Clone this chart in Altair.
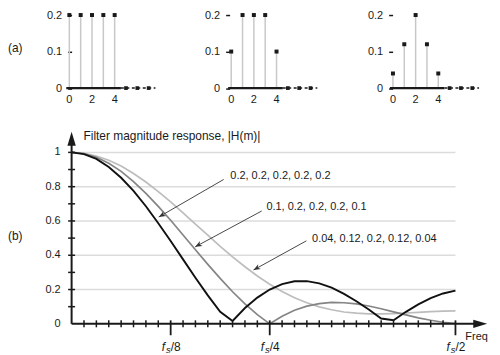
import altair as alt
import pandas as pd

FONT = "Liberation Sans"
INK = "#1a1a1a"

# ---------------- data: impulse responses (panel a) ----------------
tap_index = [0, 1, 2, 3, 4]
taps_rect = [0.2, 0.2, 0.2, 0.2, 0.2]
taps_mid = [0.1, 0.2, 0.2, 0.2, 0.1]
taps_taper = [0.04, 0.12, 0.2, 0.12, 0.04]
tail_index = [5, 6, 7]
tail_values = [0, 0, 0]
tap_x_labels = [0, 2, 4]
tap_y_ticks = [0, 0.1, 0.2]

# ---------------- data: magnitude responses (panel b) ----------------
freq_bin = list(range(32))
mag_rect = [1.000, 0.990, 0.962, 0.915, 0.852, 0.775, 0.686, 0.587, 0.483, 0.376,
            0.269, 0.166, 0.070, 0.017, 0.092, 0.153, 0.200, 0.232, 0.248, 0.249,
            0.236, 0.211, 0.175, 0.132, 0.083, 0.031, 0.021, 0.070, 0.113, 0.150,
            0.177, 0.194]
mag_mid = [1.000, 0.993, 0.971, 0.936, 0.889, 0.830, 0.761, 0.685, 0.604, 0.518,
           0.432, 0.347, 0.265, 0.187, 0.117, 0.054, 0.000, 0.044, 0.079, 0.103,
           0.118, 0.125, 0.123, 0.116, 0.104, 0.088, 0.070, 0.052, 0.035, 0.021,
           0.009, 0.002]
mag_taper = [1.000, 0.995, 0.979, 0.954, 0.920, 0.877, 0.827, 0.771, 0.711, 0.647,
             0.582, 0.517, 0.452, 0.391, 0.333, 0.279, 0.231, 0.189, 0.152, 0.123,
             0.099, 0.082, 0.069, 0.062, 0.058, 0.058, 0.060, 0.063, 0.067, 0.071,
             0.074, 0.076]

grid_levels = [0.2, 0.4, 0.6, 0.8, 1.0]
y_label_values = [0, 0.2, 0.4, 0.6, 0.8, 1.0]
y_label_text = ["0", "0.2", "0.4", "0.6", "0.8", "1"]
y_tick_values = [0.1, 0.2, 0.3, 0.4, 0.5, 0.6, 0.7, 0.8, 0.9, 1.0]
x_major_bins = [8, 16, 31]
x_major_den = ["/8", "/4", "/2"]
x_minor_bins = [b for b in range(1, 32) if b not in x_major_bins]

legend_text = ["0.2, 0.2, 0.2, 0.2, 0.2", "0.1, 0.2, 0.2, 0.2, 0.1",
               "0.04, 0.12, 0.2, 0.12, 0.04"]
legend_x = [12.82, 15.73, 19.42]
legend_y = [0.861, 0.683, 0.497]
arrow_x1 = [12.28, 15.35, 18.96]
arrow_y1 = [0.842, 0.658, 0.484]
arrow_x2 = [7.04, 9.98, 14.69]
arrow_y2 = [0.623, 0.449, 0.314]
arrow_angle = [150, 152, 151]

# ---------------- panel (a) ----------------
PX_PER_TAP = 11.4
TOP_H = 73.5


def tap_panel(taps, x_start, width, tag=None):
    xs = alt.Scale(domain=[x_start, x_start + width / PX_PER_TAP], nice=False, zero=False)
    ys = alt.Scale(domain=[0, 0.2], nice=False, zero=False)
    yaxis = alt.Axis(values=tap_y_ticks, format="~g", domain=False, grid=False, tickSize=4,
                     tickWidth=1.5, tickColor=INK, labelFont=FONT, labelFontSize=11,
                     labelColor=INK, labelPadding=6, title=None)

    def X(f):
        return alt.X(f, type="quantitative", scale=xs, axis=None)

    def Y(f):
        return alt.Y(f, type="quantitative", scale=ys, axis=yaxis)

    df = pd.DataFrame({"n": tap_index, "v": taps, "z": [0] * len(taps)})
    stems = alt.Chart(df).mark_rule(color="#c8c8c8", strokeWidth=1.5).encode(
        x=X("n"), y=Y("v"), y2="z")
    heads = alt.Chart(df).mark_square(size=16, color=INK, opacity=1).encode(
        x=X("n"), y=Y("v"))
    base = alt.Chart(pd.DataFrame({"a": [-0.27], "b": [4.55], "y": [0]})).mark_rule(
        color=INK, strokeWidth=2.2).encode(x=X("a"), x2="b", y=Y("y"))
    tail_line = alt.Chart(pd.DataFrame({"a": [4.55], "b": [7.6], "y": [0]})).mark_rule(
        color=INK, strokeWidth=1.5, strokeDash=[3, 2.5]).encode(x=X("a"), x2="b", y=Y("y"))
    tail = alt.Chart(pd.DataFrame({"n": tail_index, "v": tail_values})).mark_square(
        size=14, color=INK, opacity=1).encode(x=X("n"), y=Y("v"))
    lab_df = pd.DataFrame({"n": tap_x_labels, "y": [0] * len(tap_x_labels),
                           "t": [str(v) for v in tap_x_labels]})
    labels = alt.Chart(lab_df).mark_text(font=FONT, fontSize=11, color=INK, dy=12,
                                         baseline="middle").encode(
        x=X("n"), y=Y("y"), text="t:N")
    layers = [stems, base, tail_line, tail, heads, labels]
    if tag:
        layers.append(alt.Chart(pd.DataFrame({"y": [0.11], "t": [tag]})).mark_text(
            font=FONT, fontSize=12, color=INK, align="left", baseline="middle").encode(
            x=alt.value(-64), y=Y("y"), text="t:N"))
    return alt.layer(*layers).properties(width=width, height=TOP_H)


p1 = tap_panel(taps_rect, 0.2, 98.7, "(a)")
p2 = tap_panel(taps_mid, -0.14, 103.3)
p3 = tap_panel(taps_taper, -0.03, 100)

# ---------------- panel (b) ----------------
BW, BH = 418, 193.2
xb = alt.Scale(domain=[0, 33.55], nice=False, zero=False)
yb = alt.Scale(domain=[0, 1.12], nice=False, zero=False)


def BX(f):
    return alt.X(f, type="quantitative", scale=xb, axis=None)


def BY(f):
    return alt.Y(f, type="quantitative", scale=yb, axis=None)


grid = alt.Chart(pd.DataFrame({"g": grid_levels, "a": 0, "b": 31})).mark_rule(
    color="#dcdcdc", strokeWidth=1.5).encode(x=BX("a"), x2="b", y=BY("g"))


def curve(vals, color, width):
    return alt.Chart(pd.DataFrame({"m": freq_bin, "h": vals})).mark_line(
        color=color, strokeWidth=width).encode(x=BX("m"), y=BY("h"))


c_taper = curve(mag_taper, "#bdbdbd", 1.7)
c_mid = curve(mag_mid, "#858585", 1.7)
c_rect = curve(mag_rect, "#111111", 1.9)

x_axis_line = alt.Chart(pd.DataFrame({"a": [0], "b": [33.0], "y": [0]})).mark_rule(
    color=INK, strokeWidth=2).encode(x=BX("a"), x2="b", y=BY("y"))
y_axis_line = alt.Chart(pd.DataFrame({"x": [0], "a": [0], "b": [1.08]})).mark_rule(
    color=INK, strokeWidth=2).encode(x=BX("x"), y=BY("a"), y2="b")
axis_heads = alt.Chart(pd.DataFrame({"x": [33.0, 0], "y": [0, 1.08], "a": [0, 270]})).mark_point(
    shape="M1,0L-1,-0.6L-1,0.6Z", filled=True, size=196, color=INK, opacity=1).encode(
    x=BX("x"), y=BY("y"), angle=alt.Angle("a:Q", scale=None))

y_ticks = alt.Chart(pd.DataFrame({"x": 0, "y": y_tick_values})).mark_tick(
    orient="horizontal", size=7, thickness=1.5, color=INK, opacity=1).encode(
    x=BX("x"), y=BY("y"))
x_ticks = alt.Chart(pd.DataFrame({"x": x_minor_bins, "y": 0})).mark_tick(
    orient="vertical", size=7, thickness=1.5, color=INK, opacity=1).encode(
    x=BX("x"), y=BY("y"))
x_major = alt.Chart(pd.DataFrame({"x": x_major_bins, "y": 0})).mark_tick(
    orient="vertical", size=15, thickness=1.8, color=INK, opacity=1, yOffset=4).encode(
    x=BX("x"), y=BY("y"))

y_labels = alt.Chart(pd.DataFrame({"x": 0, "y": y_label_values, "t": y_label_text})).mark_text(
    font=FONT, fontSize=11, color=INK, align="right", baseline="middle", dx=-11).encode(
    x=BX("x"), y=BY("y"), text="t:N")

maj_df = pd.DataFrame({"x": x_major_bins, "y": 0, "f": "f", "s": "s", "d": x_major_den})
lab_f = alt.Chart(maj_df).mark_text(font=FONT, fontSize=12, fontStyle="italic", color=INK,
                                    align="left", baseline="middle", dx=-9, dy=23).encode(
    x=BX("x"), y=BY("y"), text="f:N")
lab_s = alt.Chart(maj_df).mark_text(font=FONT, fontSize=9.5, fontStyle="italic", color=INK,
                                    align="left", baseline="middle", dx=-4.8, dy=26).encode(
    x=BX("x"), y=BY("y"), text="s:N")
lab_d = alt.Chart(maj_df).mark_text(font=FONT, fontSize=12, color=INK,
                                    align="left", baseline="middle", dx=0, dy=23).encode(
    x=BX("x"), y=BY("y"), text="d:N")

arrows_df = pd.DataFrame({"x1": arrow_x1, "y1": arrow_y1, "x2": arrow_x2, "y2": arrow_y2,
                          "a": arrow_angle})
arrow_lines = alt.Chart(arrows_df).mark_rule(color="#333333", strokeWidth=0.9).encode(
    x=BX("x1"), y=BY("y1"), x2="x2", y2="y2")
arrow_heads = alt.Chart(arrows_df).mark_point(
    shape="M0,0L-2,-0.8L-1.4,0L-2,0.8Z", filled=True, size=49, color="#333333",
    opacity=1).encode(x=BX("x2"), y=BY("y2"), angle=alt.Angle("a:Q", scale=None))

legend = alt.Chart(pd.DataFrame({"x": legend_x, "y": legend_y, "t": legend_text})).mark_text(
    font=FONT, fontSize=11, color=INK, align="left", baseline="middle").encode(
    x=BX("x"), y=BY("y"), text="t:N")

title = alt.Chart(pd.DataFrame({"x": [0.96], "y": [1.096],
                                "t": ["Filter magnitude response, |H(m)|"]})).mark_text(
    font=FONT, fontSize=12, color=INK, align="left", baseline="middle").encode(
    x=BX("x"), y=BY("y"), text="t:N")
freq = alt.Chart(pd.DataFrame({"x": [31.8], "y": [-0.075], "t": ["Freq"]})).mark_text(
    font=FONT, fontSize=11, color=INK, align="left", baseline="middle").encode(
    x=BX("x"), y=BY("y"), text="t:N")
tag_b = alt.Chart(pd.DataFrame({"y": [0.513], "t": ["(b)"]})).mark_text(
    font=FONT, fontSize=12, color=INK, align="left", baseline="middle").encode(
    x=alt.value(-64), y=BY("y"), text="t:N")

bottom = alt.layer(grid, c_taper, c_mid, c_rect, x_axis_line, y_axis_line, axis_heads,
                   y_ticks, x_ticks, x_major, y_labels, lab_f, lab_s, lab_d,
                   arrow_lines, arrow_heads, legend, title, freq, tag_b).properties(
    width=BW, height=BH)

top = alt.hconcat(p1, p2, p3, spacing=60, bounds="flush")
chart = alt.vconcat(top, bottom, spacing=24.5).properties(
    padding=0).configure_view(strokeWidth=0)

chart.save("out.html", embed_options={"renderer": "svg", "actions": False})
